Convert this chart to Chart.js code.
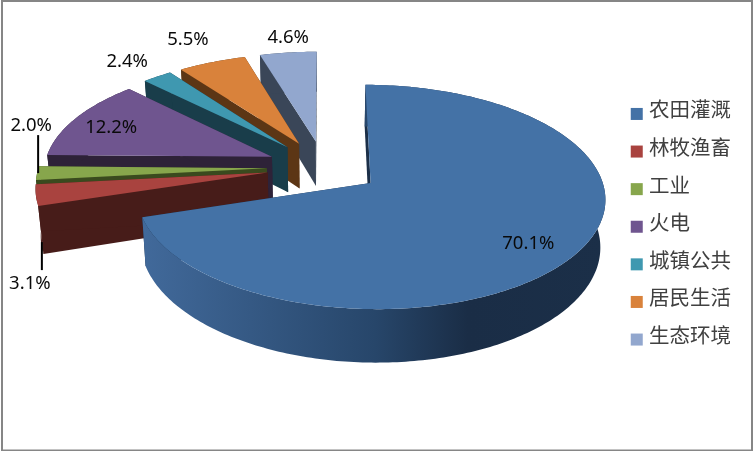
<!DOCTYPE html>
<html>
<head>
<meta charset="utf-8">
<style>
  html, body { margin: 0; padding: 0; background: #fff; }
  canvas { display: block; }
</style>
</head>
<body>
<canvas id="chart" width="753" height="451"></canvas>
<script src="https://cdn.jsdelivr.net/npm/chart.js@4"></script>
<script>
const categories = ['农田灌溉', '林牧渔畜', '工业', '火电', '城镇公共', '居民生活', '生态环境'];
const shares = [70.1, 3.1, 2.0, 12.2, 2.4, 5.5, 4.6];
const topColors = ['#4472A6', '#A9433F', '#87A64C', '#6F558F', '#3F98B0', '#D9823B', '#92A7CE'];
const wallColors = ['#1B2F48', '#471C19', '#3A4A1E', '#2E2238', '#193D4A', '#5C3615', '#3A4658'];

// label position relative to the middle of each slice's rim
const labelNudges = [[-48, -10], [-6, 89], [-6, -47], [35, 10], [-30, -15], [-24, -22], [0, -15]];

const view = { shiftY: -55.5, tilt: 0.467, perspective: 0.122, depth: 46, bottomShrink: 0.018 };

// flat disc coordinates (unit radius) to screen, z is the distance below the top face
function project(el, u, v, z) {
  const s = 1 / (1 - view.perspective * v);
  const shrink = 1 - view.bottomShrink * z / view.depth;
  return {
    x: el.x + el.outerRadius * u * s * shrink,
    y: el.y + view.shiftY + (el.outerRadius * view.tilt * v + z) * s
  };
}

function sliceGeometry(el) {
  const mid = (el.startAngle + el.endAngle) / 2;
  const explode = el.options.offset / 4 / el.outerRadius;
  const ox = Math.cos(mid) * explode;
  const oy = Math.sin(mid) * explode;
  const rim = [];
  const steps = Math.max(2, Math.ceil((el.endAngle - el.startAngle) * 60));
  for (let i = 0; i <= steps; i++) {
    const a = el.startAngle + (el.endAngle - el.startAngle) * i / steps;
    rim.push([ox + Math.cos(a), oy + Math.sin(a)]);
  }
  return { mid, ox, oy, rim };
}

function fillPoly(ctx, points, fill) {
  ctx.beginPath();
  points.forEach((p, i) => (i ? ctx.lineTo(p.x, p.y) : ctx.moveTo(p.x, p.y)));
  ctx.closePath();
  ctx.fillStyle = fill;
  ctx.fill();
}

function drawSlice(ctx, el, index) {
  const g = sliceGeometry(el);
  const up = g.rim.map(([u, v]) => project(el, u, v, 0));
  const down = g.rim.map(([u, v]) => project(el, u, v, view.depth));
  const apexUp = project(el, g.ox, g.oy, 0);
  const apexDown = project(el, g.ox, g.oy, view.depth);

  let wall = wallColors[index];
  if (index === 0) {
    wall = ctx.createLinearGradient(145, 0, 606, 0);
    wall.addColorStop(0, '#41699A');
    wall.addColorStop(0.5, '#27466A');
    wall.addColorStop(0.7, '#1A2D46');
    wall.addColorStop(1, '#1B2F48');
  }

  const last = up.length - 1;
  fillPoly(ctx, [up[0], apexUp, apexDown, down[0]], wallColors[index]);
  fillPoly(ctx, [up[last], apexUp, apexDown, down[last]], wallColors[index]);
  fillPoly(ctx, up.concat(down.slice().reverse()), wall);
  fillPoly(ctx, [apexUp].concat(up), topColors[index]);
}

const pie3d = {
  id: 'pie3d',
  beforeDraw(chart) {
    const ctx = chart.ctx;
    ctx.save();
    ctx.fillStyle = '#fff';
    ctx.fillRect(0, 0, chart.width, chart.height);
    ctx.strokeStyle = '#868686';
    ctx.lineWidth = 2;
    ctx.strokeRect(2, 1, 750, 449.5);
    ctx.restore();
  },
  beforeDatasetsDraw(chart) {
    const ctx = chart.ctx;
    const arcs = chart.getDatasetMeta(0).data;
    const order = arcs.map((el, i) => i).sort((a, b) => {
      const ma = (arcs[a].startAngle + arcs[a].endAngle) / 2;
      const mb = (arcs[b].startAngle + arcs[b].endAngle) / 2;
      return Math.sin(ma) - Math.sin(mb);
    });
    ctx.save();
    order.forEach((i) => drawSlice(ctx, arcs[i], i));

    ctx.font = '18.5px "Noto Sans", sans-serif';
    ctx.fillStyle = '#0a0a0a';
    ctx.textAlign = 'center';
    ctx.textBaseline = 'middle';
    arcs.forEach((el, i) => {
      const g = sliceGeometry(el);
      const p = project(el, g.ox + Math.cos(g.mid), g.oy + Math.sin(g.mid), 0);
      const lx = p.x + labelNudges[i][0];
      const ly = p.y + labelNudges[i][1];
      ctx.fillText(shares[i].toFixed(1) + '%', lx, ly);
      // the two thin slices get a leader line
      if (i === 1 || i === 2) {
        const from = i === 1 ? [lx + 12, ly - 42] : [lx + 7, ly + 9];
        const to = i === 1 ? [lx + 12, ly - 14] : [lx + 7, ly + 47];
        ctx.beginPath();
        ctx.moveTo(from[0], from[1]);
        ctx.lineTo(to[0], to[1]);
        ctx.strokeStyle = '#000';
        ctx.lineWidth = 2;
        ctx.stroke();
      }
    });
    ctx.restore();
    return false;
  },
  afterDraw(chart) {
    // legend squares sit lower and closer to the text than the library puts them
    const ctx = chart.ctx;
    ctx.save();
    chart.legend.legendHitBoxes.forEach((box, i) => {
      ctx.fillStyle = topColors[i];
      ctx.fillRect(box.left - 8, box.top + 8.5, 12, 12);
    });
    ctx.restore();
  }
};

new Chart(document.getElementById('chart'), {
  type: 'pie',
  data: {
    labels: categories,
    datasets: [{
      data: shares,
      backgroundColor: topColors,
      borderWidth: 0,
      offset: 228
    }]
  },
  options: {
    responsive: false,
    animation: false,
    radius: 228,
    layout: { padding: { left: 26, right: 12, bottom: 6 } },
    plugins: {
      tooltip: { enabled: false },
      legend: {
        position: 'right',
        labels: {
          boxWidth: 0,
          boxHeight: 12,
          padding: 17.1,
          color: '#404040',
          font: { family: '"Noto Sans CJK SC", sans-serif', size: 20.5, lineHeight: 1.2 }
        }
      }
    }
  },
  plugins: [pie3d]
});
</script>
</body>
</html>
